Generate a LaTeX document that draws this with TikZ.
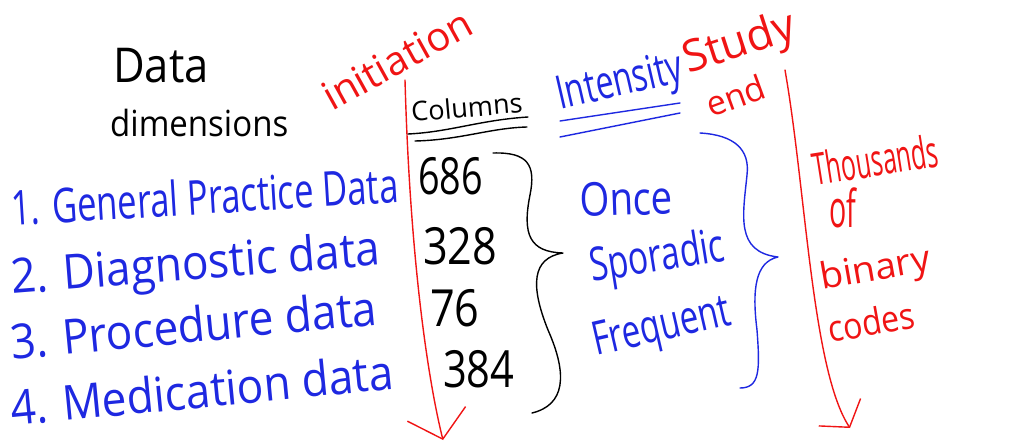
\documentclass[tikz,border=0pt]{standalone}
\usepackage{fontspec}
\setmainfont{Open Sans}
\usetikzlibrary{arrows.meta}
\definecolor{hred}{RGB}{240,20,20}
\definecolor{hblue}{RGB}{30,40,225}
\newcommand{\strt}[3]{\scalebox{#1}[#2]{#3}}
\begin{document}
\begin{tikzpicture}[x=1pt,y=-1pt,
  txt/.style={inner sep=0pt, anchor=base west},
  blk/.style={txt, text=black, font=\fontsize{30}{32}\selectfont},
  lst/.style={txt, text=hblue, font=\fontsize{32}{34}\selectfont},
  num/.style={txt, text=black, font=\fontsize{32}{34}\selectfont},
  blu/.style={txt, text=hblue, font=\fontsize{32}{34}\selectfont},
  rd/.style={txt, text=hred, font=\fontsize{26}{28}\selectfont},
  ink/.style={line width=1.4pt, line cap=round, line join=round},
  redarrow/.style={ink, hred}
]
\useasboundingbox (0,0) rectangle (1026,446);
\fill[white] (0,0) rectangle (1026,446);

% heading
\node[blk] (data) at (113,83) {\strt{1.45}{1.6}{Data}};
\node[blk] (dims) at (110,137) {\strt{1.1}{1.2}{dimensions}};

% list
\node[lst, rotate=3.5] (l1) at (12,226) {\strt{1.08}{1.5}{1. General Practice Data}};
\node[lst, rotate=4.5] (l2) at (12,294) {\strt{1.38}{1.5}{2. Diagnostic data}};
\node[lst, rotate=5.5] (l3) at (12,360) {\strt{1.38}{1.5}{3. Procedure data}};
\node[lst, rotate=5.5] (l4) at (12,426) {\strt{1.38}{1.5}{4. Medication data}};

% initiation
\node[rd, rotate=29, font=\fontsize{40}{42}\selectfont] (init) at (332,112) {initiation};
\coordinate (a1s) at (405,80);
\coordinate (a1e) at (443,440);
\draw[redarrow, -{Straight Barb[length=26pt,width=60pt,line width=1.4pt]}]
  (a1s) .. controls (410,260) and (428,380) .. (a1e);

% columns
\node[blk, rotate=5, font=\fontsize{27}{29}\selectfont] (cols) at (412,122) {Columns};
\coordinate (c1a) at (408,134); \coordinate (c1b) at (528,117);
\coordinate (c2a) at (415,141); \coordinate (c2b) at (527,127);
\draw[ink] (c1a) .. controls (450,132) and (480,120) .. (c1b);
\draw[ink] (c2a) .. controls (460,140) and (490,128) .. (c2b);

% numbers
\node[num] (n1) at (418,195) {\strt{1.18}{1.6}{686}};
\node[num] (n2) at (423,265) {\strt{1.35}{1.6}{328}};
\node[num] (n3) at (430,327) {\strt{1.35}{1.6}{76}};
\node[num] (n4) at (443,388) {\strt{1.3}{1.6}{384}};

% black brace
\draw[ink] (493,153) .. controls (528,152) and (536,165) .. (530,195)
  .. controls (522,235) and (530,252) .. (563,253)
  .. controls (532,258) and (530,285) .. (548,330)
  .. controls (568,375) and (565,405) .. (532,413);

% intensity
\node[blu, rotate=13] (inten) at (560,110) {\strt{1.0}{1.45}{Intensity}};
\coordinate (i1a) at (560,121); \coordinate (i1b) at (680,103);
\coordinate (i2a) at (560,137); \coordinate (i2b) at (680,113);
\draw[ink, hblue] (i1a) -- (i1b);
\draw[ink, hblue] (i2a) -- (i2b);

% study end
\node[rd, rotate=18, font=\fontsize{44}{46}\selectfont] (study) at (688,74) {Study};
\node[rd, rotate=20, font=\fontsize{34}{36}\selectfont] (end) at (711,118) {end};

% intensity levels
\node[blu, rotate=2] (once) at (580,217) {\strt{1.2}{1.45}{Once}};
\node[blu, rotate=9] (spor) at (592,282) {\strt{1.05}{1.45}{Sporadic}};
\node[blu, rotate=13] (freq) at (596,356) {\strt{1.04}{1.45}{Frequent}};

% blue brace
\draw[ink, hblue] (700,133) .. controls (735,135) and (750,150) .. (747,175)
  .. controls (743,215) and (735,252) .. (778,257)
  .. controls (755,262) and (752,290) .. (757,330)
  .. controls (760,370) and (760,388) .. (740,388);

% right arrow
\coordinate (a2s) at (785,70);
\coordinate (a2e) at (850,428);
\draw[redarrow, -{Straight Barb[length=18pt,width=50pt,line width=1.4pt]}]
  (a2s) .. controls (806,190) and (812,370) .. (a2e);

% thousands of binary codes
\node[rd, rotate=9] (th) at (815,186) {\strt{0.95}{1.7}{Thousands}};
\node[rd] (of) at (829,228) {\strt{1.1}{2.0}{of}};
\node[rd, rotate=10, font=\fontsize{28}{30}\selectfont] (bin) at (822,290) {\strt{1.35}{1.3}{binary}};
\node[rd, rotate=10, font=\fontsize{28}{30}\selectfont] (cod) at (830,343) {\strt{1.15}{1.3}{codes}};
\end{tikzpicture}
\end{document}
